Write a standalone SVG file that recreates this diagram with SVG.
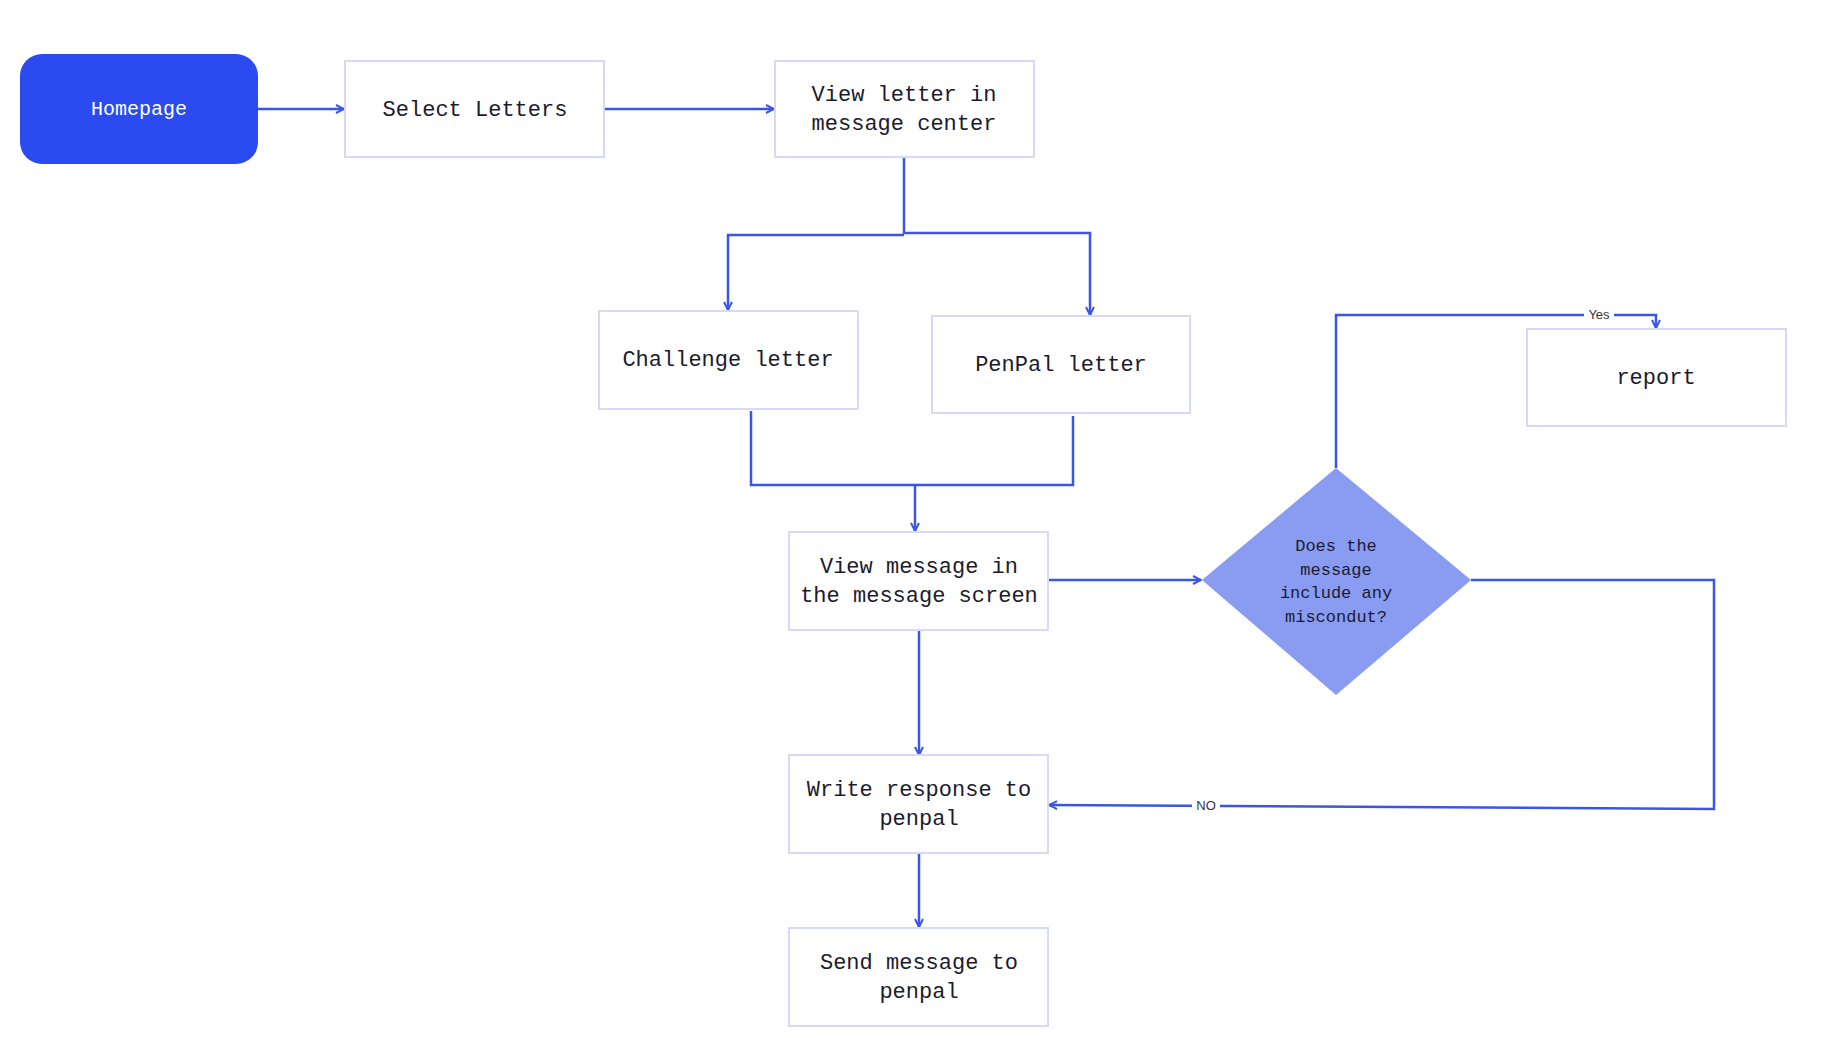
<svg xmlns="http://www.w3.org/2000/svg" width="1842" height="1038" viewBox="0 0 1842 1038">
<defs>
<style>
.box{fill:#ffffff;stroke:#d6d9f7;stroke-width:2}
.t{font-family:"Liberation Mono","DejaVu Sans Mono",monospace;font-size:22px;fill:#1b1b2f;text-anchor:middle}
.ht{font-family:"Liberation Mono","DejaVu Sans Mono",monospace;font-size:20px;fill:#ffffff;text-anchor:middle}
.dt{font-family:"Liberation Mono","DejaVu Sans Mono",monospace;font-size:17px;fill:#1b1b2f;text-anchor:middle}
.lab{font-family:"Liberation Sans","DejaVu Sans",sans-serif;font-size:13px;fill:#333344;text-anchor:middle}
.c{fill:none;stroke:#3b55e6;stroke-width:2.5;stroke-linejoin:miter}
</style>
<marker id="ah" viewBox="0 0 10 10" refX="9" refY="5" markerWidth="10" markerHeight="10" markerUnits="userSpaceOnUse" orient="auto">
<path d="M1,1 L9,5 L1,9" fill="none" stroke="#3b55e6" stroke-width="2"/>
</marker>
</defs>
<rect width="1842" height="1038" fill="#ffffff"/>
<g id="connectors">
<path class="c" d="M258,109 H344" marker-end="url(#ah)"/>
<path class="c" d="M604,109 H774" marker-end="url(#ah)"/>
<path class="c" d="M904,157 V234"/>
<path class="c" d="M904,235 H728 V310" marker-end="url(#ah)"/>
<path class="c" d="M904,233 H1090 V315" marker-end="url(#ah)"/>
<path class="c" d="M751,411 V485 H1073 V416"/>
<path class="c" d="M915,485 V531" marker-end="url(#ah)"/>
<path class="c" d="M1048,580 H1201" marker-end="url(#ah)"/>
<path class="c" d="M919,630 V755" marker-end="url(#ah)"/>
<path class="c" d="M919,853 V927" marker-end="url(#ah)"/>
<path class="c" d="M1336,468 V315 H1656 V328" marker-end="url(#ah)"/>
<path class="c" d="M1471,580 H1714 V809 L1049,805" marker-end="url(#ah)"/>
<rect x="1584" y="306" width="30" height="17" fill="#ffffff"/>
<text class="lab" x="1599" y="319">Yes</text>
<rect x="1192" y="797" width="28" height="17" fill="#ffffff"/>
<text class="lab" x="1206" y="810">NO</text>
</g>
<g id="homepage">
<rect x="20" y="54" width="238" height="110" rx="22" fill="#2b4af0"/>
<text class="ht" x="139" y="115">Homepage</text>
</g>
<g id="select-letters">
<rect class="box" x="345" y="61" width="259" height="96"/>
<text class="t" x="475" y="116">Select Letters</text>
</g>
<g id="view-letter">
<rect class="box" x="775" y="61" width="259" height="96"/>
<text class="t" x="904" y="101">View letter in</text>
<text class="t" x="904" y="130">message center</text>
</g>
<g id="challenge-letter">
<rect class="box" x="599" y="311" width="259" height="98"/>
<text class="t" x="728" y="366">Challenge letter</text>
</g>
<g id="penpal-letter">
<rect class="box" x="932" y="316" width="258" height="97"/>
<text class="t" x="1061" y="371">PenPal letter</text>
</g>
<g id="view-message">
<rect class="box" x="789" y="532" width="259" height="98"/>
<text class="t" x="919" y="573">View message in</text>
<text class="t" x="919" y="602">the message screen</text>
</g>
<g id="decision">
<polygon points="1336,468 1471,580 1336,695 1202,580" fill="#8a9bf2"/>
<text class="dt" x="1336" y="551">Does the</text>
<text class="dt" x="1336" y="575">message</text>
<text class="dt" x="1336" y="598">include any</text>
<text class="dt" x="1336" y="622">miscondut?</text>
</g>
<g id="report">
<rect class="box" x="1527" y="329" width="259" height="97"/>
<text class="t" x="1656" y="384">report</text>
</g>
<g id="write-response">
<rect class="box" x="789" y="755" width="259" height="98"/>
<text class="t" x="919" y="796">Write response to</text>
<text class="t" x="919" y="825">penpal</text>
</g>
<g id="send-message">
<rect class="box" x="789" y="928" width="259" height="98"/>
<text class="t" x="919" y="969">Send message to</text>
<text class="t" x="919" y="998">penpal</text>
</g>
</svg>
